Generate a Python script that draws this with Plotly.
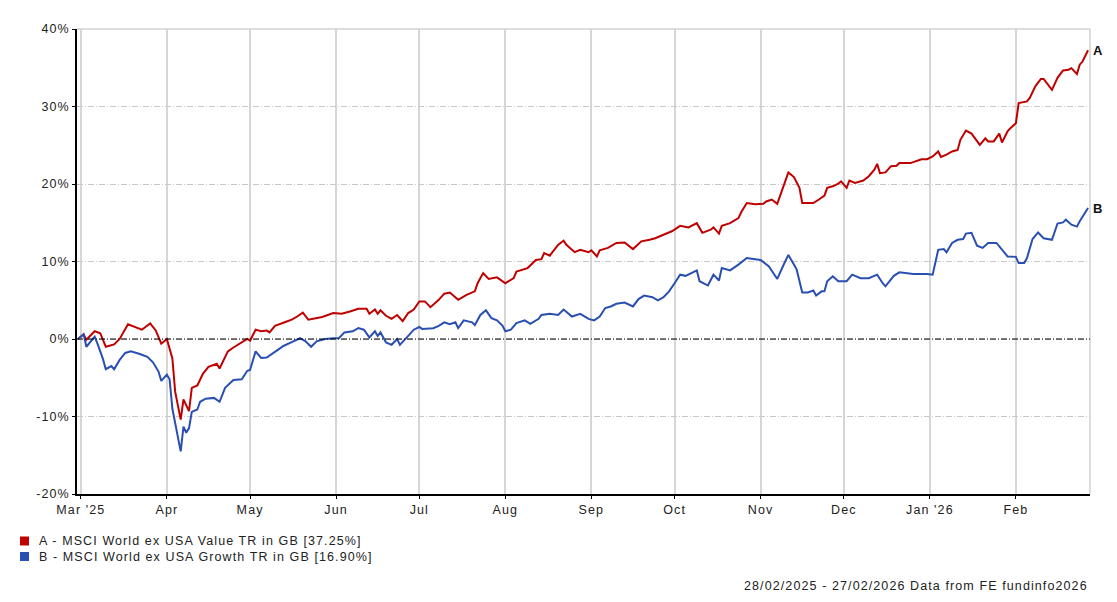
import plotly.graph_objects as go

# ---------------- data ----------------
value_dates = [
    "2025-02-28", "2025-03-02", "2025-03-03", "2025-03-06", "2025-03-08", "2025-03-10", "2025-03-13",
    "2025-03-15", "2025-03-18", "2025-03-21", "2025-03-23", "2025-03-26", "2025-03-28", "2025-03-30",
    "2025-04-01", "2025-04-03", "2025-04-04", "2025-04-06", "2025-04-07", "2025-04-09", "2025-04-10",
    "2025-04-12", "2025-04-14", "2025-04-16", "2025-04-19", "2025-04-20", "2025-04-23", "2025-04-25",
    "2025-04-28", "2025-04-30", "2025-05-01", "2025-05-03", "2025-05-05", "2025-05-07", "2025-05-08",
    "2025-05-10", "2025-05-13", "2025-05-16", "2025-05-18", "2025-05-20", "2025-05-22", "2025-05-25",
    "2025-05-27", "2025-05-31", "2025-06-03", "2025-06-06", "2025-06-09", "2025-06-12", "2025-06-13",
    "2025-06-15", "2025-06-16", "2025-06-17", "2025-06-19", "2025-06-21", "2025-06-23", "2025-06-25",
    "2025-06-27", "2025-06-29", "2025-07-01", "2025-07-03", "2025-07-05", "2025-07-08", "2025-07-10",
    "2025-07-12", "2025-07-15", "2025-07-18", "2025-07-21", "2025-07-22", "2025-07-24", "2025-07-26",
    "2025-07-29", "2025-08-01", "2025-08-04", "2025-08-05", "2025-08-09", "2025-08-12", "2025-08-14",
    "2025-08-15", "2025-08-17", "2025-08-20", "2025-08-22", "2025-08-23", "2025-08-26", "2025-08-28",
    "2025-08-31", "2025-09-01", "2025-09-03", "2025-09-04", "2025-09-07", "2025-09-10", "2025-09-13",
    "2025-09-16", "2025-09-19", "2025-09-22", "2025-09-24", "2025-09-27", "2025-09-30", "2025-10-03",
    "2025-10-06", "2025-10-09", "2025-10-11", "2025-10-14", "2025-10-15", "2025-10-17", "2025-10-18",
    "2025-10-21", "2025-10-24", "2025-10-25", "2025-10-27", "2025-10-30", "2025-11-02", "2025-11-03",
    "2025-11-05", "2025-11-07", "2025-11-09", "2025-11-11", "2025-11-13", "2025-11-15", "2025-11-16",
    "2025-11-20", "2025-11-22", "2025-11-24", "2025-11-25", "2025-11-27", "2025-11-29", "2025-11-30",
    "2025-12-02", "2025-12-03", "2025-12-05", "2025-12-08", "2025-12-10", "2025-12-12", "2025-12-13",
    "2025-12-14", "2025-12-16", "2025-12-18", "2025-12-20", "2025-12-21", "2025-12-25", "2025-12-29",
    "2025-12-31", "2026-01-02", "2026-01-04", "2026-01-05", "2026-01-07", "2026-01-09", "2026-01-11",
    "2026-01-12", "2026-01-14", "2026-01-16", "2026-01-19", "2026-01-21", "2026-01-22", "2026-01-24",
    "2026-01-26", "2026-01-27", "2026-01-29", "2026-01-30", "2026-02-01", "2026-02-02", "2026-02-05",
    "2026-02-06", "2026-02-08", "2026-02-10", "2026-02-11", "2026-02-14", "2026-02-16", "2026-02-18",
    "2026-02-20", "2026-02-21", "2026-02-23", "2026-02-24", "2026-02-25", "2026-02-27",
]
value_returns = [
    0.0, 0.6, -0.1, 1.0, 0.75, -1.0, -0.7,
    0.0, 1.9, 1.5, 1.2, 2.0, 1.1, -0.6,
    0.0, -2.5, -6.8, -10.4, -7.8, -9.3, -6.3,
    -6.0, -4.5, -3.6, -3.2, -3.8, -1.6, -1.1,
    -0.4, 0.0, -0.2, 1.2, 1.0, 1.1, 0.85,
    1.7, 2.1, 2.5, 2.9, 3.4, 2.5, 2.7,
    2.85, 3.35, 3.25, 3.55, 3.9, 3.9, 3.25,
    3.8, 3.25, 3.7, 3.0, 2.6, 3.1, 2.3,
    3.35, 3.8, 4.85, 4.85, 4.1, 5.05, 5.85,
    6.0, 5.05, 5.7, 6.15, 7.2, 8.5, 7.75,
    7.95, 7.2, 7.85, 8.7, 9.15, 10.2, 10.3,
    11.1, 10.75, 12.15, 12.7, 12.15, 11.2, 11.5,
    11.2, 11.45, 10.65, 11.45, 11.75, 12.4, 12.45,
    11.6, 12.6, 12.8, 13.0, 13.45, 13.9, 14.6,
    14.4, 14.95, 13.7, 14.1, 14.4, 13.6, 14.6,
    14.95, 15.6, 16.35, 17.55, 17.4, 17.45, 17.75,
    18.0, 17.45, 19.5, 21.5, 20.9, 19.5, 17.55,
    17.55, 18.0, 18.5, 19.5, 19.7, 20.05, 20.35,
    19.5, 20.45, 20.15, 20.45, 21.0, 21.85, 22.6,
    21.4, 21.5, 22.3, 22.35, 22.7, 22.7, 23.2,
    23.2, 23.55, 24.2, 23.5, 23.8, 24.2, 24.4,
    25.7, 26.9, 26.5, 25.05, 25.9, 25.5, 25.5,
    26.5, 25.35, 26.8, 27.2, 27.85, 30.45, 30.65,
    31.1, 32.6, 33.55, 33.55, 32.15, 33.7, 34.65,
    34.75, 34.95, 34.2, 35.4, 35.8, 37.25,
]

growth_dates = [
    "2025-02-28", "2025-03-02", "2025-03-03", "2025-03-06", "2025-03-07", "2025-03-09", "2025-03-10",
    "2025-03-12", "2025-03-13", "2025-03-15", "2025-03-17", "2025-03-19", "2025-03-22", "2025-03-25",
    "2025-03-27", "2025-03-29", "2025-03-30", "2025-04-01", "2025-04-02", "2025-04-03", "2025-04-06",
    "2025-04-07", "2025-04-08", "2025-04-09", "2025-04-10", "2025-04-12", "2025-04-13", "2025-04-15",
    "2025-04-18", "2025-04-20", "2025-04-22", "2025-04-25", "2025-04-28", "2025-04-30", "2025-05-01",
    "2025-05-03", "2025-05-05", "2025-05-07", "2025-05-11", "2025-05-13", "2025-05-16", "2025-05-19",
    "2025-05-21", "2025-05-23", "2025-05-25", "2025-05-28", "2025-05-31", "2025-06-02", "2025-06-04",
    "2025-06-07", "2025-06-09", "2025-06-11", "2025-06-13", "2025-06-15", "2025-06-16", "2025-06-17",
    "2025-06-19", "2025-06-21", "2025-06-23", "2025-06-24", "2025-06-27", "2025-06-29", "2025-07-01",
    "2025-07-02", "2025-07-06", "2025-07-08", "2025-07-10", "2025-07-12", "2025-07-14", "2025-07-15",
    "2025-07-17", "2025-07-20", "2025-07-21", "2025-07-23", "2025-07-25", "2025-07-27", "2025-07-29",
    "2025-07-31", "2025-08-01", "2025-08-03", "2025-08-05", "2025-08-08", "2025-08-10", "2025-08-13",
    "2025-08-14", "2025-08-17", "2025-08-20", "2025-08-22", "2025-08-25", "2025-08-28", "2025-08-31",
    "2025-09-02", "2025-09-04", "2025-09-06", "2025-09-08", "2025-09-10", "2025-09-13", "2025-09-16",
    "2025-09-18", "2025-09-20", "2025-09-23", "2025-09-25", "2025-09-27", "2025-09-29", "2025-10-01",
    "2025-10-03", "2025-10-05", "2025-10-07", "2025-10-09", "2025-10-10", "2025-10-13", "2025-10-15",
    "2025-10-17", "2025-10-18", "2025-10-21", "2025-10-24", "2025-10-27", "2025-10-30", "2025-11-01",
    "2025-11-04", "2025-11-07", "2025-11-09", "2025-11-11", "2025-11-13", "2025-11-14", "2025-11-16",
    "2025-11-18", "2025-11-20", "2025-11-21", "2025-11-23", "2025-11-24", "2025-11-25", "2025-11-27",
    "2025-11-29", "2025-12-02", "2025-12-04", "2025-12-07", "2025-12-10", "2025-12-13", "2025-12-15",
    "2025-12-16", "2025-12-19", "2025-12-21", "2025-12-26", "2025-12-31", "2026-01-02", "2026-01-04",
    "2026-01-06", "2026-01-07", "2026-01-09", "2026-01-11", "2026-01-13", "2026-01-14", "2026-01-16",
    "2026-01-18", "2026-01-20", "2026-01-22", "2026-01-25", "2026-01-27", "2026-01-29", "2026-02-01",
    "2026-02-02", "2026-02-04", "2026-02-05", "2026-02-07", "2026-02-09", "2026-02-11", "2026-02-14",
    "2026-02-16", "2026-02-18", "2026-02-19", "2026-02-21", "2026-02-23", "2026-02-24", "2026-02-27",
]
growth_returns = [
    0.0, 0.6, -1.0, 0.3, -0.6, -2.6, -3.9,
    -3.5, -3.9, -2.7, -1.8, -1.6, -1.9, -2.3,
    -3.0, -4.2, -5.4, -4.6, -5.2, -9.0, -14.5,
    -11.3, -12.1, -11.5, -9.4, -9.1, -8.1, -7.7,
    -7.6, -8.1, -6.3, -5.3, -5.2, -4.1, -4.0,
    -1.6, -2.45, -2.4, -1.4, -0.9, -0.4, 0.1,
    -0.3, -1.0, -0.3, 0.0, 0.1, 0.1, 0.85,
    1.0, 1.4, 1.2, 0.2, 1.0, 0.4, 0.85,
    -0.45, -0.75, 0.0, -0.75, 0.4, 1.2, 1.55,
    1.3, 1.4, 1.7, 2.15, 1.9, 2.15, 1.4,
    2.4, 2.15, 1.8, 3.1, 3.7, 2.7, 2.4,
    1.7, 1.0, 1.2, 2.05, 2.4, 1.95, 2.6,
    3.1, 3.25, 3.1, 3.8, 2.9, 3.25, 2.6,
    2.4, 2.9, 4.0, 4.2, 4.55, 4.7, 4.2,
    5.15, 5.6, 5.4, 5.0, 5.4, 6.15, 7.2,
    8.3, 8.15, 8.5, 8.85, 7.45, 6.9, 8.3,
    7.55, 9.15, 8.85, 9.6, 10.45, 10.3, 10.2,
    9.35, 7.75, 9.35, 10.85, 9.6, 8.95, 6.0,
    6.0, 6.25, 5.6, 6.15, 6.15, 7.45, 8.1,
    7.45, 7.45, 8.3, 7.85, 7.85, 8.3, 7.2,
    6.8, 8.15, 8.6, 8.4, 8.4, 8.3, 11.5,
    11.6, 11.2, 12.4, 12.8, 12.9, 13.6, 13.7,
    12.05, 11.75, 12.4, 12.4, 11.5, 10.65, 10.6,
    9.8, 9.8, 10.45, 12.9, 13.75, 13.0, 12.8,
    14.9, 15.05, 15.4, 14.75, 14.5, 15.2, 16.9,
]

series_tags = ["A", "B"]
series_names = [
    "A - MSCI World ex USA Value TR in GB [37.25%]",
    "B - MSCI World ex USA Growth TR in GB [16.90%]",
]
x_tick_dates = [
    "2025-03-01", "2025-04-01", "2025-05-01", "2025-06-01", "2025-07-01", "2025-08-01",
    "2025-09-01", "2025-10-01", "2025-11-01", "2025-12-01", "2026-01-01", "2026-02-01",
]
x_tick_labels = ["Mar '25", "Apr", "May", "Jun", "Jul", "Aug", "Sep", "Oct", "Nov", "Dec", "Jan '26", "Feb"]
y_tick_values = [-20, -10, 0, 10, 20, 30, 40]
y_tick_labels = ["-20%", "-10%", "0%", "10%", "20%", "30%", "40%"]
footer_text = "28/02/2025 - 27/02/2026 Data from FE fundinfo2026"

# ---------------- styling ----------------
RED = "#c00000"
BLUE = "#2a4fb2"
FONT = "Liberation Sans, Arial, sans-serif"
TEXT_COLOR = "#222222"
FS = 12.5


def spaced(s, ls=1.1):
    return '<span style="letter-spacing:%.2fpx">%s</span>' % (ls, s)


# page body has an 8px margin: shrink the figure so the plot sits where the reference does
PAGE_OFF = 8
W, H = 1117 - PAGE_OFF, 602 - PAGE_OFF

fig = go.Figure()
series = [
    (value_dates, value_returns, RED),
    (growth_dates, growth_returns, BLUE),
]
for (xs, ys, col), name in zip(series, series_names):
    fig.add_trace(go.Scatter(
        x=xs, y=ys, mode="lines", name=name,
        line=dict(color=col, width=2), showlegend=False,
        hoverinfo="skip",
    ))

# end labels A / B
for (xs, ys, col), tag in zip(series, series_tags):
    fig.add_annotation(
        x=xs[-1], y=ys[-1], xref="x", yref="y", text="<b>%s</b>" % tag,
        showarrow=False, xanchor="left", yanchor="middle", xshift=3,
        font=dict(family=FONT, size=13, color="#111111"),
    )

# legend (coloured squares + text below the plot)
for i, ((xs, ys, col), name) in enumerate(zip(series, series_names)):
    fig.add_shape(
        type="rect", xref="paper", yref="paper",
        xsizemode="pixel", ysizemode="pixel", xanchor=0, yanchor=0,
        x0=-57, x1=-48, y0=-42.5 - 15.5 * i, y1=-51.5 - 15.5 * i,
        fillcolor=col, line=dict(width=0),
    )
    fig.add_annotation(
        x=0, y=0, xref="paper", yref="paper", text=spaced(name), showarrow=False,
        xanchor="left", yanchor="middle", xshift=-40, yshift=-47 - 15.5 * i,
        font=dict(family=FONT, size=FS, color=TEXT_COLOR),
    )

# footer
fig.add_annotation(
    x=1, y=0, xref="paper", yref="paper", text=spaced(footer_text), showarrow=False,
    xanchor="right", yanchor="middle", xshift=0, yshift=-92,
    font=dict(family=FONT, size=FS, color=TEXT_COLOR),
)

# zero line (dash-dot black), top & right frame (light grey)
fig.add_shape(type="line", xref="paper", yref="y", x0=0, x1=1, y0=0, y1=0,
              line=dict(color="#000000", width=1, dash="6px,2px,1px,2px"), layer="above")
fig.add_shape(type="line", xref="paper", yref="paper", x0=0, x1=1, y0=1, y1=1,
              line=dict(color="#d2d2d2", width=1.5), layer="below")
fig.add_shape(type="line", xref="paper", yref="paper", x0=1, x1=1, y0=0, y1=1,
              line=dict(color="#d2d2d2", width=1.5), layer="below")

fig.update_layout(
    width=W, height=H,
    margin=dict(l=77 - PAGE_OFF, r=27, t=29 - PAGE_OFF, b=108),
    paper_bgcolor="white", plot_bgcolor="white",
    font=dict(family=FONT, size=FS, color=TEXT_COLOR),
    showlegend=False,
    xaxis=dict(
        type="date",
        range=["2025-02-27 15:00", "2026-02-27 17:00"],
        tickmode="array", tickvals=x_tick_dates, ticktext=[spaced(t) for t in x_tick_labels],
        showgrid=True, gridcolor="#d6d6d6", gridwidth=1.5,
        showline=True, linecolor="#000000", linewidth=1.5,
        ticks="outside", ticklen=3, tickcolor="#000000",
        tickfont=dict(family=FONT, size=FS, color=TEXT_COLOR),
        zeroline=False, fixedrange=True,
    ),
    yaxis=dict(
        range=[-20, 40],
        tickmode="array", tickvals=y_tick_values, ticktext=[spaced(t) for t in y_tick_labels],
        showgrid=True, gridcolor="#c8c8c8", gridwidth=1, griddash="6px,2px,1px,2px",
        showline=True, linecolor="#000000", linewidth=1.5,
        ticks="outside", ticklen=3, tickcolor="#000000",
        tickfont=dict(family=FONT, size=FS, color=TEXT_COLOR),
        zeroline=False, fixedrange=True,
    ),
)

fig.write_html("out.html")
